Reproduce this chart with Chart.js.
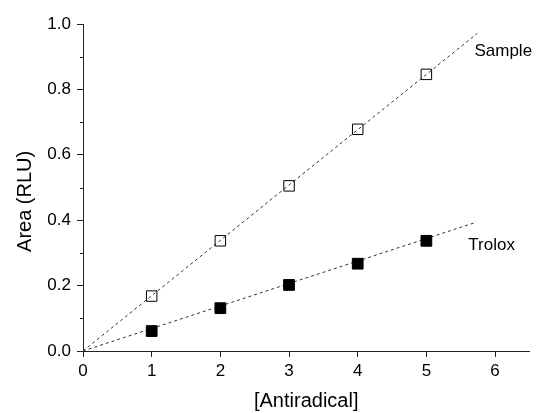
<!DOCTYPE html>
<html>
<head>
<meta charset="utf-8">
<script src="https://cdn.jsdelivr.net/npm/chart.js@4/dist/chart.umd.min.js"></script>
<style>
  html, body { margin: 0; padding: 0; background: #fff; }
  #wrap { width: 538px; height: 413px; }
</style>
</head>
<body>
<div id="wrap"><canvas id="c" width="538" height="413"></canvas></div>
<script>
// ---- data ----
const concentrations = [1, 2, 3, 4, 5];
const sampleArea = [0.168, 0.337, 0.505, 0.678, 0.846];
const troloxArea = [0.061, 0.131, 0.202, 0.267, 0.337];
const sampleFitX = [0, 5.74];
const sampleFitY = [0, 0.971];
const troloxFitX = [0, 5.70];
const troloxFitY = [0, 0.392];
const xTickValues = [0, 1, 2, 3, 4, 5, 6];
const yTickValues = [0, 0.2, 0.4, 0.6, 0.8, 1.0];
const yMinorTickValues = [0.1, 0.3, 0.5, 0.7, 0.9];
const seriesLabels = ['Sample', 'Trolox'];
const labelAnchors = [[5.70, 0.917], [5.61, 0.324]];

const toPts = (xs, ys) => xs.map((x, i) => ({ x: x, y: ys[i] }));

const FONT = "'Liberation Sans', Arial, sans-serif";
const AXIS = '#222';

const annotate = {
  id: 'annotate',
  afterDraw(chart) {
    const ctx = chart.ctx;
    const xs = chart.scales.x, ys = chart.scales.y;
    ctx.save();
    // minor y ticks
    ctx.strokeStyle = AXIS;
    ctx.lineWidth = 1;
    yMinorTickValues.forEach(v => {
      const py = Math.round(ys.getPixelForValue(v)) + 0.5;
      ctx.beginPath();
      ctx.moveTo(xs.left - 3, py);
      ctx.lineTo(xs.left, py);
      ctx.stroke();
    });
    // series labels
    ctx.fillStyle = '#000';
    ctx.font = '17px ' + FONT;
    ctx.textAlign = 'left';
    ctx.textBaseline = 'middle';
    seriesLabels.forEach((t, i) => {
      ctx.fillText(t, xs.getPixelForValue(labelAnchors[i][0]), ys.getPixelForValue(labelAnchors[i][1]));
    });
    ctx.restore();
  }
};

new Chart(document.getElementById('c'), {
  type: 'scatter',
  data: {
    datasets: [
      {
        type: 'line', data: toPts(sampleFitX, sampleFitY),
        borderColor: '#333', borderWidth: 1, borderDash: [3, 3],
        pointRadius: 0, fill: false, tension: 0, order: 3
      },
      {
        type: 'line', data: toPts(troloxFitX, troloxFitY),
        borderColor: '#333', borderWidth: 1, borderDash: [3, 3],
        pointRadius: 0, fill: false, tension: 0, order: 3
      },
      {
        data: toPts(concentrations, sampleArea),
        pointStyle: 'rect', pointRadius: 7.4, pointHoverRadius: 7.4,
        backgroundColor: 'rgba(0,0,0,0)', borderColor: '#000', borderWidth: 1, order: 1
      },
      {
        data: toPts(concentrations, troloxArea),
        pointStyle: 'rect', pointRadius: 7.6, pointHoverRadius: 7.6,
        backgroundColor: '#000', borderColor: '#000', borderWidth: 1, order: 1
      }
    ]
  },
  options: {
    responsive: false,
    animation: false,
    devicePixelRatio: 1,
    layout: { padding: { left: 0, right: 5.5, top: 24, bottom: 0 } },
    plugins: { legend: { display: false }, tooltip: { enabled: false } },
    scales: {
      x: {
        type: 'linear', min: 0, max: 6.5,
        afterBuildTicks: s => { s.ticks = xTickValues.map(v => ({ value: v })); },
        afterFit: s => { s.height = 62; },
        ticks: { color: '#000', font: { family: FONT, size: 17 }, padding: 4,
                 callback: v => String(v) },
        grid: { display: true, drawOnChartArea: false, drawTicks: true, tickLength: 6,
                tickColor: AXIS, tickWidth: 1 },
        border: { display: true, color: AXIS, width: 1 },
        title: { display: true, text: '[Antiradical]', color: '#000',
                 font: { family: FONT, size: 20 }, padding: { top: 0, bottom: 0 } }
      },
      y: {
        type: 'linear', min: 0, max: 1.0,
        afterBuildTicks: s => { s.ticks = yTickValues.map(v => ({ value: v })); },
        afterFit: s => { s.width = 83; },
        ticks: { color: '#000', font: { family: FONT, size: 17 }, padding: 6,
                 callback: v => Number(v).toFixed(1) },
        grid: { display: true, drawOnChartArea: false, drawTicks: true, tickLength: 6,
                tickColor: AXIS, tickWidth: 1 },
        border: { display: true, color: AXIS, width: 1 },
        title: { display: true, text: 'Area (RLU)     ', color: '#000',
                 font: { family: FONT, size: 20 }, padding: { top: 13, bottom: 0 } }
      }
    }
  },
  plugins: [annotate]
});
</script>
</body>
</html>
